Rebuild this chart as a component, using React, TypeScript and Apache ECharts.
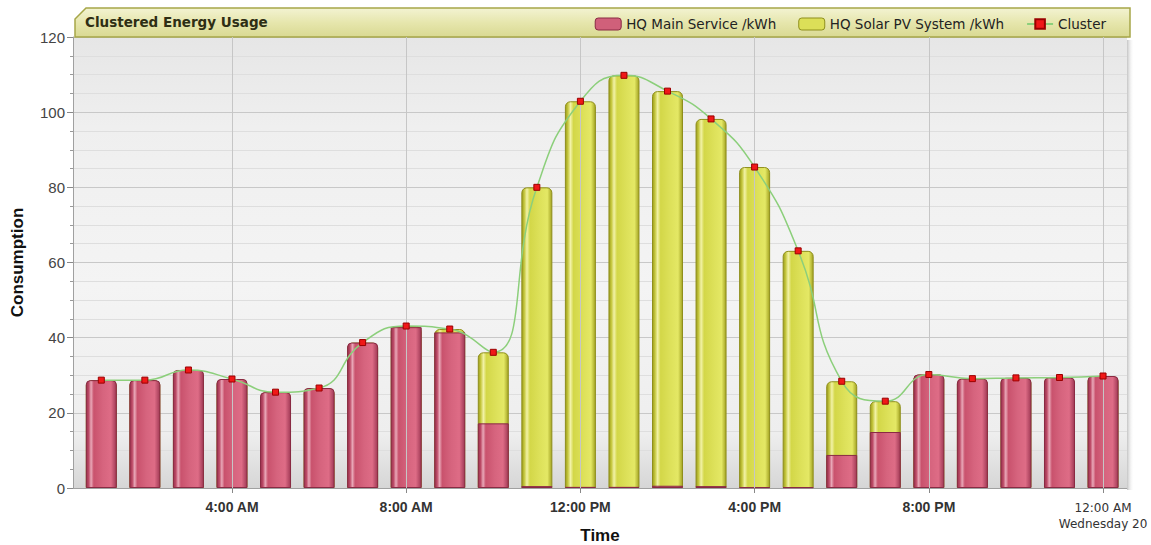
import React, { useEffect, useRef } from "react";
import * as echarts from "echarts";

// ---- data ----
const hours = [1, 2, 3, 4, 5, 6, 7, 8, 9, 10, 11, 12, 13, 14, 15, 16, 17, 18, 19, 20, 21, 22, 23, 24];
const mainService = [28.7, 28.7, 31.4, 29.0, 25.5, 26.6, 38.7, 42.8, 41.4, 17.2, 0.5, 0.3, 0.3, 0.6, 0.5, 0.2, 0.2, 8.8, 14.9, 30.2, 29.1, 29.3, 29.4, 29.8];
const solarPV = [0, 0, 0, 0, 0, 0, 0, 0.3, 0.9, 18.9, 79.5, 102.6, 109.5, 105.0, 97.7, 85.2, 62.9, 19.6, 8.2, 0, 0, 0, 0, 0];
const cluster = [28.7, 28.7, 31.4, 29.0, 25.5, 26.6, 38.7, 43.1, 42.3, 36.1, 80.0, 102.9, 109.8, 105.6, 98.2, 85.4, 63.1, 28.4, 23.1, 30.2, 29.1, 29.3, 29.4, 29.8];
const tickHours = [4, 8, 12, 16, 20, 24];
const tickLabels = ["4:00 AM", "8:00 AM", "12:00 PM", "4:00 PM", "8:00 PM", "12:00 AM"];
const dayLabel = "Wednesday 20";
const seriesNames = ["HQ Main Service /kWh", "HQ Solar PV System /kWh", "Cluster"];
const titleText = "Clustered Energy Usage";

export default function App() {
  const ref = useRef<HTMLDivElement>(null);
  useEffect(() => {
    document.body.style.margin = "0";
    const chart = echarts.init(ref.current!, null, { renderer: "svg" });
    const LG = echarts.graphic.LinearGradient;
    const redGrad = new LG(0, 0, 1, 0, [
      { offset: 0, color: "#9a3350" },
      { offset: 0.08, color: "#bd4a66" },
      { offset: 0.16, color: "#e9a8b8" },
      { offset: 0.25, color: "#c9526d" },
      { offset: 0.55, color: "#d6647e" },
      { offset: 0.82, color: "#de6c86" },
      { offset: 1, color: "#a13a56" },
    ]);
    const yelGrad = new LG(0, 0, 1, 0, [
      { offset: 0, color: "#9c9c1e" },
      { offset: 0.08, color: "#c4c63c" },
      { offset: 0.17, color: "#f2f2a6" },
      { offset: 0.27, color: "#d3d748" },
      { offset: 0.6, color: "#dde15a" },
      { offset: 0.85, color: "#e4e865" },
      { offset: 1, color: "#a3a322" },
    ]);
    const bandGrad = new LG(0, 0, 0, 1, [
      { offset: 0, color: "#f3f3d2" },
      { offset: 0.5, color: "#e6e6ad" },
      { offset: 1, color: "#d9d992" },
    ]);
    const plotGrad = new LG(0, 0, 0, 1, [
      { offset: 0, color: "#e6e6e6" },
      { offset: 0.2, color: "#efefef" },
      { offset: 0.55, color: "#f4f4f4" },
      { offset: 0.88, color: "#eeeeee" },
      { offset: 1, color: "#d6d6d6" },
    ]);
    const wallGrad = new LG(0, 0, 1, 0, [
      { offset: 0, color: "rgba(190,190,190,0.9)" },
      { offset: 1, color: "rgba(255,255,255,0)" },
    ]);

    const totals = hours.map((_, i) => mainService[i] + solarPV[i]);

    chart.setOption({
      animation: false,
      backgroundColor: "#ffffff",
      textStyle: { fontFamily: "Liberation Sans" },
      grid: {
        left: 73,
        right: 24,
        top: 37,
        bottom: 57,
        show: true,
        backgroundColor: plotGrad,
        borderWidth: 0,
        containLabel: false,
        outerBoundsMode: "none",
      },
      graphic: [
        {
          type: "polygon",
          z: 1,
          shape: { points: [[75, 37], [75, 19], [86, 8], [1130, 8], [1130, 37]] },
          style: { fill: bandGrad, stroke: "#a6a648", lineWidth: 1.5 },
        },
        {
          type: "text",
          z: 2,
          left: 85,
          top: 15,
          style: {
            text: titleText,
            fontFamily: "DejaVu Sans",
            fontWeight: "bold",
            fontSize: 13.5,
            fill: "#2e2e14",
          },
        },
        {
          type: "rect",
          z: 1,
          shape: { x: 1127, y: 40, width: 7, height: 450 },
          style: { fill: wallGrad },
        },
      ],
      legend: {
        right: 40,
        top: 12,
        itemWidth: 26,
        itemHeight: 12,
        itemGap: 22,
        textStyle: { fontFamily: "DejaVu Sans", fontSize: 13.5, color: "#222" },
        data: [
          { name: seriesNames[0], icon: "roundRect", itemStyle: { color: "#d0607a", borderColor: "#8a2a44", borderWidth: 1 } },
          { name: seriesNames[1], icon: "roundRect", itemStyle: { color: "#dcdf58", borderColor: "#8f8f1c", borderWidth: 1 } },
          { name: seriesNames[2] },
        ],
      },
      xAxis: {
        type: "value",
        min: 0.35,
        max: 24.55,
        name: "Time",
        nameLocation: "middle",
        nameGap: 39,
        nameMoveOverlap: false,
        nameTextStyle: { fontFamily: "Liberation Sans", fontWeight: "bold", fontSize: 17, color: "#111" },
        axisLine: { show: true, lineStyle: { color: "#a0a0a0" } },
        axisTick: { show: true, length: 5, customValues: tickHours, lineStyle: { color: "#888" } },
        splitLine: { show: false },
        axisLabel: {
          customValues: tickHours,
          margin: 12,
          formatter: (v: number) => {
            const i = tickHours.indexOf(Math.round(v));
            if (i < 0) return "";
            if (i === tickHours.length - 1) return "{n|" + tickLabels[i] + "}\n{n|" + dayLabel + "}";
            return "{b|" + tickLabels[i] + "}";
          },
          rich: {
            b: { fontFamily: "Liberation Sans", fontWeight: "bold", fontSize: 14, color: "#333" },
            n: { fontFamily: "DejaVu Sans", fontSize: 12, color: "#333", lineHeight: 16 },
          },
        },
      },
      yAxis: {
        type: "value",
        min: 0,
        max: 120,
        interval: 20,
        name: "Consumption",
        nameLocation: "middle",
        nameGap: 47,
        nameMoveOverlap: false,
        nameTextStyle: { fontFamily: "Liberation Sans", fontWeight: "bold", fontSize: 17, color: "#111" },
        axisLine: { show: true, lineStyle: { color: "#a0a0a0" } },
        axisTick: { show: true, length: 6, lineStyle: { color: "#888" } },
        minorTick: { show: true, splitNumber: 4, length: 3, lineStyle: { color: "#999" } },
        splitLine: { show: true, lineStyle: { color: "#c8c8c8", width: 1 } },
        minorSplitLine: { show: true, lineStyle: { color: "#dedede", width: 1 } },
        axisLabel: { fontFamily: "Liberation Sans", fontSize: 15, color: "#444", margin: 8 },
      },
      series: [
        {
          type: "line",
          data: [],
          z: 1,
          silent: true,
          markLine: {
            symbol: "none",
            silent: true,
            label: { show: false },
            lineStyle: { color: "#c6c6c6", type: "solid", width: 1 },
            data: tickHours.map((h) => ({ xAxis: h })),
          },
        },
        {
          // solar sits on top of the main service: drawn as the full stack height behind
          name: seriesNames[1],
          type: "bar",
          barWidth: 31,
          barGap: "-100%",
          z: 2,
          itemStyle: { color: yelGrad, borderColor: "#8f8f1c", borderWidth: 1, borderRadius: [5, 5, 0, 0] },
          data: hours.map((h, i) => [h, totals[i]]),
        },
        {
          name: seriesNames[0],
          type: "bar",
          barWidth: 31,
          barGap: "-100%",
          z: 3,
          itemStyle: { color: redGrad, borderColor: "#8a2a44", borderWidth: 1 },
          data: hours.map((h, i) => ({
            value: [h, mainService[i]],
            itemStyle: { borderRadius: solarPV[i] > 0 ? 0 : [4, 4, 0, 0] },
          })),
        },
        {
          name: seriesNames[2],
          type: "line",
          z: 5,
          smooth: 0.5,
          symbol: "rect",
          symbolSize: 6,
          lineStyle: { color: "#8ccf7b", width: 1.5 },
          itemStyle: { color: "#f01818", borderColor: "#9a0000", borderWidth: 1 },
          data: hours.map((h, i) => [h, cluster[i]]),
        },
      ],
    });
    return () => chart.dispose();
  }, []);
  return <div ref={ref} style={{ width: 1151, height: 545 }} />;
}
